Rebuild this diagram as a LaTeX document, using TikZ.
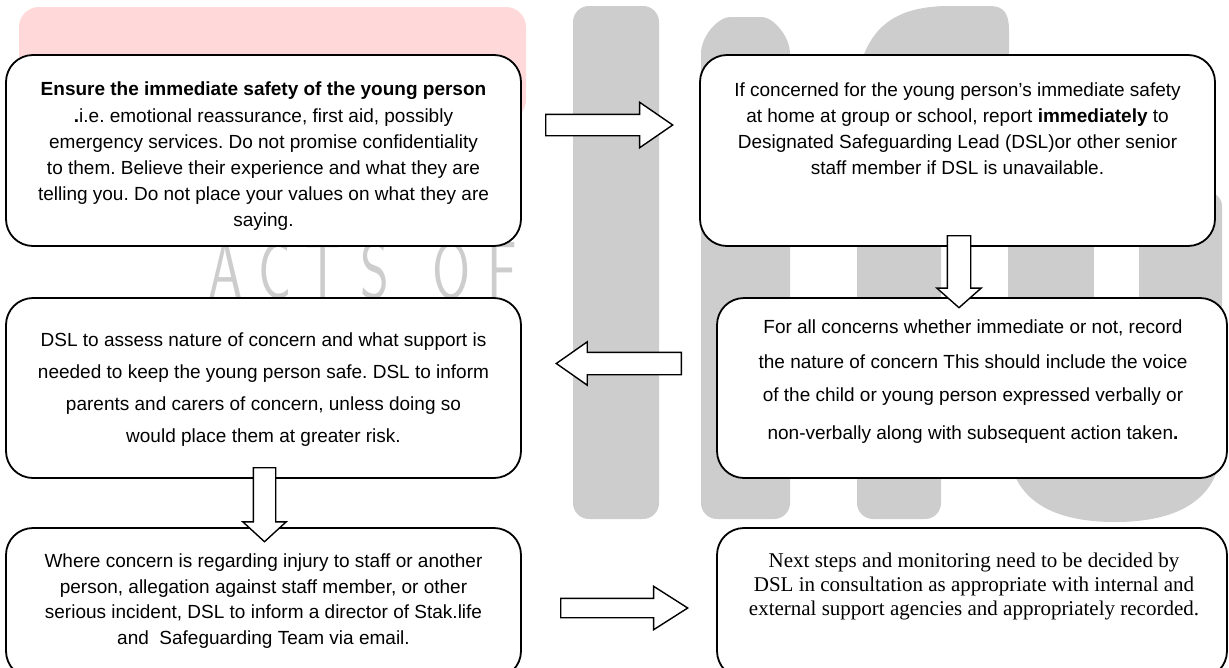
\documentclass[tikz,border=0pt]{standalone}
\usepackage{fontspec}
\setmainfont{Liberation Sans}
\newfontfamily\serifbox{Liberation Serif}
\usetikzlibrary{shapes.arrows}
\frenchspacing

\definecolor{wmgray}{RGB}{205,205,205}
\definecolor{wmpink}{RGB}{255,217,217}

\begin{document}
\begin{tikzpicture}[x=1pt, y=-1pt]
	\tikzset{box/.style = {draw, line width=1.8pt, rounded corners=27pt, fill=white, inner sep=0pt}}
	\tikzset{txt/.style = {align=center, inner sep=0pt, font=\fontsize{19}{26.2}\selectfont}}
	\tikzset{blockarrow/.style = {single arrow, draw, fill=white, line width=1.4pt, inner xsep=0pt, anchor=tail}}
	\tikzset{wmletter/.style = {text=wmgray, anchor=base, inner sep=0pt, xscale=0.68, font=\sffamily\fontsize{81}{81}\selectfont}}
	\useasboundingbox (0,0) rectangle (1229,667);

	% Hintergrund
	\fill[wmpink, rounded corners=20pt] (19,7) rectangle (526,120);
	\fill[wmgray, rounded corners=16pt] (573,6) rectangle (659,519);
	\fill[wmgray, rounded corners=16pt] (701,70) .. controls (701,35) and (719,17) .. (746,17) .. controls (772,17) and (790,35) .. (790,70) -- (790,519) -- (701,519) -- cycle;
	\fill[wmgray, rounded corners=16pt] (857,60) rectangle (941,519);
	\fill[wmgray] (862,60) .. controls (875,20) and (905,6) .. (950,6) -- (990,6) .. controls (1004,6) and (1009,14) .. (1009,30) -- (1009,60) -- cycle;
	\fill[wmgray] (1008,60) rectangle (1094,460);
	\fill[wmgray, rounded corners=14pt] (1139,192) rectangle (1222,460);
	\fill[wmgray] (1008,440) .. controls (1008,505) and (1060,522) .. (1115,522) .. controls (1170,522) and (1222,505) .. (1222,440) -- cycle;
	\node[wmletter] (wA) at (226,298) {A};
	\node[wmletter] (wC) at (275,298) {C};
	\node[wmletter] (wT) at (323,298) {T};
	\node[wmletter] (wS) at (375,298) {S};
	\node[wmletter] (wO) at (452,298) {O};
	\node[wmletter] (wF) at (502,298) {F};

	% Kaesten
	\node[box, minimum width=515pt, minimum height=191pt] (b1) at (263.5,150.5) {};
	\node[box, minimum width=515pt, minimum height=191pt] (b2) at (957.5,150.5) {};
	\node[box, minimum width=515pt, minimum height=180pt] (b3) at (263.5,388) {};
	\node[box, minimum width=510pt, minimum height=180pt] (b4) at (972,388) {};
	\node[box, minimum width=515pt, minimum height=150pt] (b5) at (263.5,603) {};
	\node[box, minimum width=510pt, minimum height=150pt] (b6) at (972,603) {};

	% Texte
	\node[txt] (t1) at (263.5,156.5) {\textbf{Ensure the immediate safety of the young person}\\
		\textbf{.}i.e. emotional reassurance, first aid, possibly\\
		emergency services. Do not promise confidentiality\\
		to them. Believe their experience and what they are\\
		telling you. Do not place your values on what they are\\
		saying.};
	\node[txt, font=\fontsize{19}{26}\selectfont] (t2) at (957.5,129) {If concerned for the young person’s immediate safety\\
		at home at group or school, report \textbf{immediately} to\\
		Designated Safeguarding Lead (DSL)or other senior\\
		staff member if DSL is unavailable.};
	\node[txt, font=\fontsize{19}{32}\selectfont] (t3) at (263.5,389.5) {DSL to assess nature of concern and what support is\\
		needed to keep the young person safe. DSL to inform\\
		parents and carers of concern, unless doing so\\
		would place them at greater risk.};
	\node[txt, font=\fontsize{19}{34}\selectfont] (t4) at (973,382) {For all concerns whether immediate or not, record\\[1pt]
		the nature of concern This should include the voice\\[-1pt]
		of the child or young person expressed verbally or\\[4pt]
		non-verbally along with subsequent action taken\textbf{.}};
	\node[txt, font=\fontsize{19}{25.7}\selectfont] (t5) at (263.5,601) {Where concern is regarding injury to staff or another\\
		person, allegation against staff member, or other\\
		serious incident, DSL to inform a director of Stak.life\\
		and~ Safeguarding Team via email.};
	\node[txt, font=\serifbox\fontsize{21}{24}\selectfont] (t6) at (974,586) {Next steps and monitoring need to be decided by\\
		DSL in consultation as appropriate with internal and\\
		external support agencies and appropriately recorded.};

	% Pfeile
	\node[blockarrow, minimum height=127pt, inner ysep=10pt, single arrow head extend=12pt, single arrow tip angle=69] (a12) at (545,125) {};
	\node[blockarrow, rotate=-90, minimum height=72pt, inner ysep=11pt, single arrow head extend=10.5pt, single arrow tip angle=97] (a24) at (959,235) {};
	\node[blockarrow, rotate=180, minimum height=125pt, inner ysep=10.5pt, single arrow head extend=10.5pt, single arrow tip angle=70] (a43) at (682,363.5) {};
	\node[blockarrow, rotate=-90, minimum height=74pt, inner ysep=10.5pt, single arrow head extend=10.5pt, single arrow tip angle=95] (a35) at (264.5,467) {};
	\node[blockarrow, minimum height=127pt, inner ysep=9pt, single arrow head extend=12pt, single arrow tip angle=65] (a56) at (560,608) {};
\end{tikzpicture}
\end{document}
